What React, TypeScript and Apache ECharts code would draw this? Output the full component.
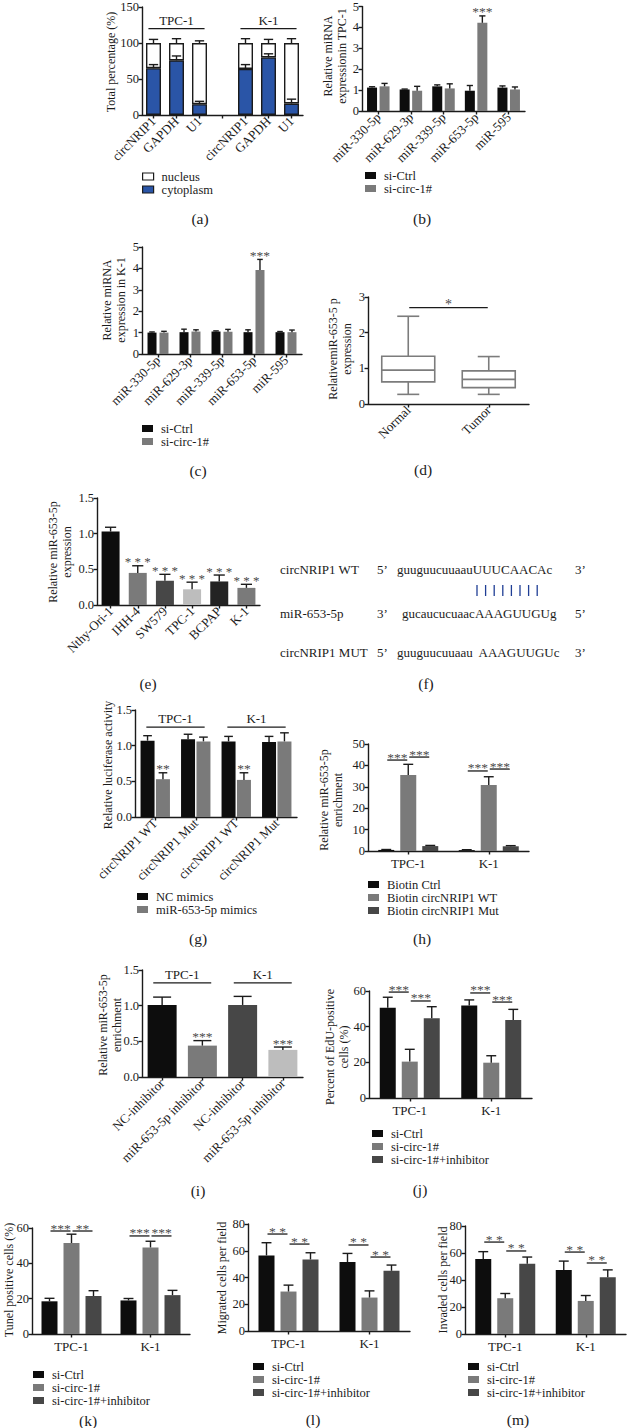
import React, { useEffect, useRef } from "react";
import * as echarts from "echarts";

const FONT = '"Liberation Serif", "Times New Roman", serif';
const INK = "#1b1b1b";
const BLACK = "#0d0d0d";
const GRAY = "#7a7a7a";
const DARK = "#474747";
const LIGHT = "#bdbdbd";
const BLUE = "#2a55a7";
const NAVY = "#1f3e95";
const BOX = "#7c7c7c";
const STAR = "#4a4a4a";

type Sig = { c1: number; b1: number; c2: number; b2: number; y: number; text: string };
const pair = (cat: number, b1: number, b2: number, y: number, text: string): Sig => ({ c1: cat, b1, c2: cat, b2, y, text });

// (a)
const A_CATEGORIES = ["circNRIP1", "GAPDH", "U1", "", "circNRIP1", "GAPDH", "U1"];
const A_CYTOPLASM = [65, 76, 15, null, 64, 80, 16];
const A_CYTOPLASM_ERR = [70, 82, 19, null, 70, 85, 22];
const A_NUCLEUS = [35, 24, 85, null, 36, 20, 84];
const A_TOTAL_ERR = [105, 106, 103, null, 106, 105, 106];
const A_GROUPS = [
  { label: "TPC-1", from: 0, to: 2, y: 120 },
  { label: "K-1", from: 4, to: 6, y: 120 },
];

// (b)
const B_CATEGORIES = ["miR-330-5p", "miR-629-3p", "miR-339-5p", "miR-653-5p", "miR-595"];
const B_CTRL = [1.12, 1.03, 1.18, 0.97, 1.12];
const B_CTRL_ERR = [1.16, 1.05, 1.25, 1.22, 1.2];
const B_CIRC = [1.18, 0.97, 1.08, 4.22, 1.03];
const B_CIRC_ERR = [1.32, 1.18, 1.3, 4.55, 1.15];
const B_STARS = ["", "", "", "***", ""];

// (c)
const C_CATEGORIES = ["miR-330-5p", "miR-629-3p", "miR-339-5p", "miR-653-5p", "miR-595"];
const C_CTRL = [1.0, 1.02, 1.05, 1.02, 1.02];
const C_CTRL_ERR = [1.03, 1.16, 1.08, 1.13, 1.05];
const C_CIRC = [1.0, 1.05, 1.04, 3.92, 1.02];
const C_CIRC_ERR = [1.06, 1.13, 1.15, 4.42, 1.12];
const C_STARS = ["", "", "", "***", ""];

// (d)
const D_CATEGORIES = ["Normal", "Tumor"];
const D_MIN = [0.27, 0.27];
const D_Q1 = [0.62, 0.46];
const D_MEDIAN = [0.95, 0.69];
const D_Q3 = [1.34, 0.93];
const D_MAX = [2.46, 1.33];
const D_SIG: Sig[] = [{ c1: 0, b1: 0, c2: 1, b2: 0, y: 2.7, text: "*" }];

// (e)
const E_CATEGORIES = ["Nthy-Ori-1", "IHH-4", "SW579", "TPC-1", "BCPAP", "K-1"];
const E_VALUES = [1.03, 0.45, 0.34, 0.22, 0.33, 0.24];
const E_ERR = [1.09, 0.55, 0.43, 0.32, 0.42, 0.29];
const E_COLORS = [BLACK, GRAY, DARK, LIGHT, "#232323", GRAY];
const E_STARS = ["", "* * *", "* * *", "* * *", "* * *", "* * *"];

// (g)
const G_CATEGORIES = ["circNRIP1 WT", "circNRIP1 Mut", "circNRIP1 WT", "circNRIP1 Mut"];
const G_NC = [1.07, 1.09, 1.06, 1.05];
const G_NC_ERR = [1.14, 1.16, 1.13, 1.13];
const G_MIMICS = [0.53, 1.06, 0.52, 1.06];
const G_MIMICS_ERR = [0.62, 1.12, 0.62, 1.18];
const G_STARS = ["**", "", "**", ""];
const G_GROUPS = [
  { label: "TPC-1", from: 0, to: 1, y: 1.26 },
  { label: "K-1", from: 2, to: 3, y: 1.26 },
];

// (h)
const H_CATEGORIES = ["TPC-1", "K-1"];
const H_CTRL = [0.5, 0.4];
const H_CTRL_ERR = [0.7, 0.6];
const H_WT = [35.5, 30.8];
const H_WT_ERR = [40.5, 34.7];
const H_MUT = [2.3, 2.2];
const H_MUT_ERR = [2.6, 2.5];
const H_SIG = [pair(0, 0, 1, 42.5, "***"), pair(0, 1, 2, 43.9, "***"), pair(1, 0, 1, 37.4, "***"), pair(1, 1, 2, 38.3, "***")];

// (i)
const I_CATEGORIES = ["NC-inhibitor", "miR-653-5p inhibitor", "NC-inhibitor", "miR-653-5p inhibitor"];
const I_VALUES = [1.01, 0.44, 1.01, 0.38];
const I_ERR = [1.12, 0.51, 1.13, 0.42];
const I_COLORS = [BLACK, GRAY, DARK, LIGHT];
const I_STARS = ["", "***", "", "***"];
const I_GROUPS = [
  { label: "TPC-1", from: 0, to: 1, y: 1.32 },
  { label: "K-1", from: 2, to: 3, y: 1.32 },
];

// (j) (k) (l) (m)
const CELL_LINES = ["TPC-1", "K-1"];
const J_CTRL = [50.6, 51.8];
const J_CTRL_ERR = [56.5, 55];
const J_CIRC = [20.4, 19.8];
const J_CIRC_ERR = [27.3, 23.7];
const J_INH = [44.7, 43.7];
const J_INH_ERR = [51.2, 49.7];
const J_SIG = [pair(0, 0, 1, 59.4, "***"), pair(0, 1, 2, 54.4, "***"), pair(1, 0, 1, 58.9, "***"), pair(1, 1, 2, 53.8, "***")];

const K_CTRL = [18.5, 19];
const K_CTRL_ERR = [20.2, 20.1];
const K_CIRC = [51.5, 49];
const K_CIRC_ERR = [56.5, 52.5];
const K_INH = [21.5, 22];
const K_INH_ERR = [24.5, 24.7];
const K_SIG = [pair(0, 0, 1, 58.3, "***"), pair(0, 1, 2, 58.3, "**"), pair(1, 0, 1, 55.5, "***"), pair(1, 1, 2, 55.5, "***")];

const L_CTRL = [56.5, 51.5];
const L_CTRL_ERR = [66, 58];
const L_CIRC = [29.5, 25];
const L_CIRC_ERR = [34.3, 30];
const L_INH = [53.5, 45];
const L_INH_ERR = [58.5, 49.3];
const L_SIG = [pair(0, 0, 1, 72.5, "* *"), pair(0, 1, 2, 65, "* *"), pair(1, 0, 1, 64.3, "* *"), pair(1, 1, 2, 55.3, "* *")];

const M_CTRL = [55.5, 47.5];
const M_CTRL_ERR = [61, 54];
const M_CIRC = [26.5, 24.5];
const M_CIRC_ERR = [30, 28.5];
const M_INH = [52, 42];
const M_INH_ERR = [57, 47.5];
const M_SIG = [pair(0, 0, 1, 68.1, "* *"), pair(0, 1, 2, 61.5, "* *"), pair(1, 0, 1, 60.7, "* *"), pair(1, 1, 2, 52.6, "* *")];

const txt = (text: string, size: number, fill: string, align: string, vAlign: string) => ({
  legacy: false,
  text,
  fontFamily: FONT,
  fontSize: size,
  fill,
  align,
  verticalAlign: vAlign,
});

const barOffset = (idx: number, n: number, bw: number, gap: number) =>
  -(n * bw + (n - 1) * gap * bw) / 2 + bw / 2 + idx * bw * (1 + gap);

function buildOption() {
  const grid: any[] = [];
  const xAxis: any[] = [];
  const yAxis: any[] = [];
  const series: any[] = [];
  const legend: any[] = [];
  const graphic: any[] = [];
  const axisLineStyle = { color: INK, width: 1.4 };

  const panel = (
    box: { left: number; top: number; width: number; height: number },
    cats: string[],
    yMax: number,
    yInterval: number,
    decimals: number,
    rotate: number
  ) => {
    const gi = grid.length;
    grid.push({ ...box });
    xAxis.push({
      gridIndex: gi,
      type: "category",
      data: cats.map((_, i) => "c" + i),
      axisLine: { show: true, lineStyle: axisLineStyle },
      axisTick: { show: true, alignWithLabel: true, length: 3.5, lineStyle: axisLineStyle },
      axisLabel: {
        interval: 0,
        rotate,
        margin: rotate ? 4 : 6,
        formatter: (_v: string, i: number) => cats[i],
        fontFamily: FONT,
        fontSize: 13,
        color: INK,
      },
      splitLine: { show: false },
    });
    yAxis.push({
      gridIndex: gi,
      type: "value",
      min: 0,
      max: yMax,
      interval: yInterval,
      axisLine: { show: true, lineStyle: axisLineStyle },
      axisTick: { show: true, length: 3.5, lineStyle: axisLineStyle },
      axisLabel: {
        margin: 3,
        formatter: (v: number) => v.toFixed(decimals),
        fontFamily: FONT,
        fontSize: 12.5,
        color: INK,
      },
      splitLine: { show: false },
    });
    return gi;
  };

  const bars = (gi: number, name: string, data: any[], color: string, bw: number, gap: number, extra: any = {}) => {
    series.push({
      type: "bar",
      name,
      xAxisIndex: gi,
      yAxisIndex: gi,
      data,
      barWidth: bw,
      barGap: gap * 100 + "%",
      itemStyle: { color },
      z: 2,
      ...extra,
    });
  };

  const errs = (
    gi: number,
    vals: (number | null)[],
    tops: (number | null)[],
    idx: number,
    n: number,
    bw: number,
    gap: number,
    stars?: string[],
    starSize = 13.5
  ) => {
    const items: number[][] = [];
    vals.forEach((v, i) => {
      if (v != null && tops[i] != null) items.push([i, v, tops[i] as number]);
    });
    series.push({
      type: "custom",
      coordinateSystem: "cartesian2d",
      xAxisIndex: gi,
      yAxisIndex: gi,
      z: 6,
      silent: true,
      data: items,
      encode: { x: 0, y: 1 },
      renderItem: (_p: any, api: any) => {
        const c = api.value(0);
        const base = api.coord([c, api.value(1)]);
        const top = api.coord([c, api.value(2)]);
        const x = base[0] + barOffset(idx, n, bw, gap);
        const cap = bw * 0.62;
        const st = { stroke: INK, lineWidth: 1.4 };
        const children: any[] = [
          { type: "line", shape: { x1: x, y1: base[1], x2: x, y2: top[1] }, style: st },
          { type: "line", shape: { x1: x - cap / 2, y1: top[1], x2: x + cap / 2, y2: top[1] }, style: st },
        ];
        const s = stars ? stars[c] : "";
        if (s) children.push({ type: "text", x, y: top[1] - 4, style: txt(s, starSize, STAR, "center", "middle") });
        return { type: "group", children };
      },
    });
  };

  const sig = (gi: number, items: Sig[], n: number, bw: number, gap: number, fontSize = 13.5) => {
    series.push({
      type: "custom",
      coordinateSystem: "cartesian2d",
      xAxisIndex: gi,
      yAxisIndex: gi,
      z: 7,
      silent: true,
      data: items.map((s, k) => [s.c1, s.y, k]),
      encode: { x: 0, y: 1 },
      renderItem: (_p: any, api: any) => {
        const s = items[api.value(2)];
        const a = api.coord([s.c1, s.y]);
        const b = api.coord([s.c2, s.y]);
        const x1 = a[0] + barOffset(s.b1, n, bw, gap) + 1;
        const x2 = b[0] + barOffset(s.b2, n, bw, gap) - 1;
        return {
          type: "group",
          children: [
            { type: "line", shape: { x1, y1: a[1], x2, y2: a[1] }, style: { stroke: INK, lineWidth: 1.3 } },
            { type: "text", x: (x1 + x2) / 2, y: a[1] - 3, style: txt(s.text, fontSize, STAR, "center", "middle") },
          ],
        };
      },
    });
  };

  const groupLabels = (gi: number, groups: { label: string; from: number; to: number; y: number }[]) => {
    series.push({
      type: "custom",
      coordinateSystem: "cartesian2d",
      xAxisIndex: gi,
      yAxisIndex: gi,
      z: 7,
      silent: true,
      data: groups.map((g, k) => [g.from, g.y, k]),
      encode: { x: 0, y: 1 },
      renderItem: (_p: any, api: any) => {
        const g = groups[api.value(2)];
        const a = api.coord([g.from, g.y]);
        const b = api.coord([g.to, g.y]);
        const w = api.size([1, 0])[0];
        const x1 = a[0] - 0.22 * w;
        const x2 = b[0] + 0.22 * w;
        return {
          type: "group",
          children: [
            { type: "line", shape: { x1, y1: a[1], x2, y2: a[1] }, style: { stroke: INK, lineWidth: 1.4 } },
            { type: "text", x: (x1 + x2) / 2, y: a[1] - 8.5, style: txt(g.label, 13, INK, "center", "middle") },
          ],
        };
      },
    });
  };

  const leg = (left: number, top: number, items: { name: string; color: string; border?: boolean }[]) => {
    legend.push({
      left,
      top,
      orient: "vertical",
      padding: 0,
      itemGap: 0,
      itemWidth: 11,
      itemHeight: 7,
      icon: "rect",
      selectedMode: false,
      textStyle: { fontFamily: FONT, fontSize: 12.5, color: INK, padding: [0, 0, 0, 3] },
      data: items.map((it) => ({
        name: it.name,
        icon: "rect",
        itemStyle: { color: it.color, borderColor: it.border ? INK : it.color, borderWidth: it.border ? 1.2 : 0 },
      })),
    });
  };

  const text = (x: number, y: number, s: string, size: number, opts: any = {}) => {
    graphic.push({
      type: "text",
      x,
      y,
      rotation: opts.rotate ? Math.PI / 2 : 0,
      z: 10,
      silent: true,
      style: { ...txt(s, size, opts.fill || INK, opts.align || "center", "middle"), lineHeight: opts.lineHeight || size * 1.2 },
    });
  };
  const yTitle = (x: number, y: number, s: string) => text(x, y, s, 12, { rotate: true, lineHeight: 14 });
  const caption = (x: number, y: number, s: string) => text(x, y, s, 15.5);

  // ---------- (a)
  const ga = panel({ left: 142, top: 7, width: 161, height: 108 }, A_CATEGORIES, 150, 50, 0, 45);
  const borderA = { borderColor: INK, borderWidth: 1.4 };
  bars(ga, "cytoplasm", A_CYTOPLASM, BLUE, 15, 0, { stack: "a", itemStyle: { color: BLUE, ...borderA } });
  bars(ga, "nucleus", A_NUCLEUS, "#ffffff", 15, 0, { stack: "a", itemStyle: { color: "#ffffff", ...borderA } });
  errs(ga, A_CYTOPLASM, A_CYTOPLASM_ERR, 0, 1, 15, 0);
  errs(
    ga,
    A_CYTOPLASM.map((v, i) => (v == null ? null : v + (A_NUCLEUS[i] as number))),
    A_TOTAL_ERR,
    0,
    1,
    15,
    0
  );
  groupLabels(ga, A_GROUPS);
  leg(142, 170, [
    { name: "nucleus", color: "#ffffff", border: true },
    { name: "cytoplasm", color: BLUE, border: true },
  ]);
  yTitle(111, 62, "Total percentage (%)");
  caption(200, 218, "(a)");

  // ---------- (b)
  const gb = panel({ left: 362, top: 4, width: 163, height: 107 }, B_CATEGORIES, 5, 1, 0, 45);
  bars(gb, "si-Ctrl", B_CTRL, BLACK, 10, 0.25);
  bars(gb, "si-circ-1#", B_CIRC, GRAY, 10, 0.25);
  errs(gb, B_CTRL, B_CTRL_ERR, 0, 2, 10, 0.25);
  errs(gb, B_CIRC, B_CIRC_ERR, 1, 2, 10, 0.25, B_STARS);
  leg(365, 169, [
    { name: "si-Ctrl", color: BLACK },
    { name: "si-circ-1#", color: GRAY },
  ]);
  yTitle(335, 56, "Relative miRNA\nexpressionin TPC-1");
  caption(422, 218, "(b)");

  // ---------- (c)
  const gc = panel({ left: 142, top: 247, width: 160, height: 107 }, C_CATEGORIES, 5, 1, 0, 45);
  bars(gc, "si-Ctrl", C_CTRL, BLACK, 9, 0.33);
  bars(gc, "si-circ-1#", C_CIRC, GRAY, 9, 0.33);
  errs(gc, C_CTRL, C_CTRL_ERR, 0, 2, 9, 0.33);
  errs(gc, C_CIRC, C_CIRC_ERR, 1, 2, 9, 0.33, C_STARS);
  leg(142, 422, [
    { name: "si-Ctrl", color: BLACK },
    { name: "si-circ-1#", color: GRAY },
  ]);
  yTitle(114, 300, "Relative miRNA\nexpression in K-1");
  caption(198, 470, "(c)");

  // ---------- (d)
  const gd = panel({ left: 368, top: 297, width: 161, height: 107 }, D_CATEGORIES, 3, 1, 0, 45);
  series.push({
    type: "custom",
    name: "boxplot",
    coordinateSystem: "cartesian2d",
    xAxisIndex: gd,
    yAxisIndex: gd,
    z: 4,
    silent: true,
    data: D_CATEGORIES.map((_, i) => [i, D_MIN[i], D_Q1[i], D_MEDIAN[i], D_Q3[i], D_MAX[i]]),
    encode: { x: 0, y: [1, 2, 3, 4, 5] },
    renderItem: (_p: any, api: any) => {
      const c = api.value(0);
      const pts = [1, 2, 3, 4, 5].map((k) => api.coord([c, api.value(k)]));
      const x = pts[0][0];
      const hw = 26.5;
      const cw = 11;
      const st = { stroke: BOX, lineWidth: 1.6, fill: "none" };
      return {
        type: "group",
        children: [
          { type: "rect", shape: { x: x - hw, y: pts[3][1], width: 2 * hw, height: pts[1][1] - pts[3][1] }, style: st },
          { type: "line", shape: { x1: x - hw, y1: pts[2][1], x2: x + hw, y2: pts[2][1] }, style: st },
          { type: "line", shape: { x1: x, y1: pts[3][1], x2: x, y2: pts[4][1] }, style: st },
          { type: "line", shape: { x1: x, y1: pts[1][1], x2: x, y2: pts[0][1] }, style: st },
          { type: "line", shape: { x1: x - cw, y1: pts[4][1], x2: x + cw, y2: pts[4][1] }, style: st },
          { type: "line", shape: { x1: x - cw, y1: pts[0][1], x2: x + cw, y2: pts[0][1] }, style: st },
        ],
      };
    },
  });
  sig(gd, D_SIG, 1, 0, 0, 14);
  yTitle(340, 349, "RelativemiR-653-5 p\nexpression");
  caption(423, 469, "(d)");

  // ---------- (e)
  const ge = panel({ left: 97, top: 498, width: 163, height: 107 }, E_CATEGORIES, 1.5, 0.5, 1, 45);
  bars(
    ge,
    "miR-653-5p expression",
    E_VALUES.map((v, i) => ({ value: v, itemStyle: { color: E_COLORS[i] } })),
    BLACK,
    18,
    0
  );
  errs(ge, E_VALUES, E_ERR, 0, 1, 18, 0, E_STARS, 13);
  yTitle(60, 552, "Relative miR-653-5p\nexpression");
  caption(148, 683, "(e)");

  // ---------- (f)
  const rows = [
    { y: 569, label: "circNRIP1 WT", p5: "5\u2019", seq: "guuguucuuaauUUUCAACAc", sx: 397, p3: "3\u2019" },
    { y: 613, label: "miR-653-5p", p5: "3\u2019", seq: "gucaucucuaacAAAGUUGUg", sx: 402, p3: "5\u2019" },
    { y: 652, label: "circNRIP1 MUT", p5: "5\u2019", seq: "guuguucuuaau  AAAGUUGUc", sx: 397, p3: "3\u2019" },
  ];
  rows.forEach((r) => {
    text(280, r.y, r.label, 13, { align: "left" });
    text(377, r.y, r.p5, 13, { align: "left" });
    text(r.sx, r.y, r.seq, 13, { align: "left" });
    text(575, r.y, r.p3, 13, { align: "left" });
  });
  for (let k = 0; k < 8; k++) {
    graphic.push({
      type: "line",
      silent: true,
      shape: { x1: 477 + k * 8.6, y1: 585, x2: 477 + k * 8.6, y2: 596 },
      style: { stroke: NAVY, lineWidth: 1.3 },
    });
  }
  caption(426, 683, "(f)");

  // ---------- (g)
  const gg = panel({ left: 135, top: 710, width: 162, height: 107 }, G_CATEGORIES, 1.5, 0.5, 1, 45);
  bars(gg, "NC mimics", G_NC, BLACK, 14, 0.1);
  bars(gg, "miR-653-5p mimics", G_MIMICS, GRAY, 14, 0.1);
  errs(gg, G_NC, G_NC_ERR, 0, 2, 14, 0.1);
  errs(gg, G_MIMICS, G_MIMICS_ERR, 1, 2, 14, 0.1, G_STARS, 13.5);
  groupLabels(gg, G_GROUPS);
  leg(137, 890, [
    { name: "NC mimics", color: BLACK },
    { name: "miR-653-5p mimics", color: GRAY },
  ]);
  yTitle(108, 765, "Relative luciferase activity");
  caption(198, 938, "(g)");

  // ---------- (h)
  const gh = panel({ left: 368, top: 744, width: 161, height: 107 }, H_CATEGORIES, 50, 10, 0, 0);
  const bw3 = 16;
  const gap3 = 0.375;
  bars(gh, "Biotin Ctrl", H_CTRL, BLACK, bw3, gap3);
  bars(gh, "Biotin circNRIP1 WT", H_WT, GRAY, bw3, gap3);
  bars(gh, "Biotin circNRIP1 Mut", H_MUT, DARK, bw3, gap3);
  errs(gh, H_CTRL, H_CTRL_ERR, 0, 3, bw3, gap3);
  errs(gh, H_WT, H_WT_ERR, 1, 3, bw3, gap3);
  errs(gh, H_MUT, H_MUT_ERR, 2, 3, bw3, gap3);
  sig(gh, H_SIG, 3, bw3, gap3);
  leg(368, 878, [
    { name: "Biotin Ctrl", color: BLACK },
    { name: "Biotin circNRIP1 WT", color: GRAY },
    { name: "Biotin circNRIP1 Mut", color: DARK },
  ]);
  yTitle(331, 800, "Relative miR-653-5p\nenrichment");
  caption(422, 938, "(h)");

  // ---------- (i)
  const gI = panel({ left: 142, top: 970, width: 161, height: 107 }, I_CATEGORIES, 1.5, 0.5, 1, 45);
  bars(
    gI,
    "miR-653-5p enrichment",
    I_VALUES.map((v, i) => ({ value: v, itemStyle: { color: I_COLORS[i] } })),
    BLACK,
    29,
    0
  );
  errs(gI, I_VALUES, I_ERR, 0, 1, 29, 0, I_STARS, 13.5);
  groupLabels(gI, I_GROUPS);
  yTitle(110, 1025, "Relative miR-653-5p\nenrichment");
  caption(198, 1190, "(i)");

  // ---------- (j) (k) (l) (m)
  const triple = (
    box: { left: number; top: number; width: number; height: number },
    yMax: number,
    ctrl: number[],
    ctrlE: number[],
    circ: number[],
    circE: number[],
    inh: number[],
    inhE: number[],
    sigs: Sig[],
    legLeft: number,
    legTop: number
  ) => {
    const g = panel(box, CELL_LINES, yMax, 20, 0, 0);
    bars(g, "si-Ctrl", ctrl, BLACK, bw3, gap3);
    bars(g, "si-circ-1#", circ, GRAY, bw3, gap3);
    bars(g, "si-circ-1#+inhibitor", inh, DARK, bw3, gap3);
    errs(g, ctrl, ctrlE, 0, 3, bw3, gap3);
    errs(g, circ, circE, 1, 3, bw3, gap3);
    errs(g, inh, inhE, 2, 3, bw3, gap3);
    sig(g, sigs, 3, bw3, gap3);
    leg(legLeft, legTop, [
      { name: "si-Ctrl", color: BLACK },
      { name: "si-circ-1#", color: GRAY },
      { name: "si-circ-1#+inhibitor", color: DARK },
    ]);
  };

  triple({ left: 369, top: 991, width: 163, height: 107 }, 60, J_CTRL, J_CTRL_ERR, J_CIRC, J_CIRC_ERR, J_INH, J_INH_ERR, J_SIG, 372, 1127);
  yTitle(337, 1047, "Percent of EdU-positive\ncells (%)");
  caption(420, 1189, "(j)");

  triple({ left: 32, top: 1228, width: 158, height: 106 }, 60, K_CTRL, K_CTRL_ERR, K_CIRC, K_CIRC_ERR, K_INH, K_INH_ERR, K_SIG, 33, 1368);
  yTitle(9, 1280, "Tunel positive cells (%)");
  caption(88, 1420, "(k)");

  triple({ left: 248, top: 1224, width: 162, height: 107 }, 80, L_CTRL, L_CTRL_ERR, L_CIRC, L_CIRC_ERR, L_INH, L_INH_ERR, L_SIG, 253, 1360);
  yTitle(222, 1278, "Migrated cells per field");
  caption(313, 1419, "(l)");

  triple({ left: 465, top: 1226, width: 161, height: 108 }, 80, M_CTRL, M_CTRL_ERR, M_CIRC, M_CIRC_ERR, M_INH, M_INH_ERR, M_SIG, 468, 1360);
  yTitle(443, 1280, "Invaded cells per field");
  caption(518, 1419, "(m)");

  return {
    animation: false,
    backgroundColor: "#ffffff",
    textStyle: { fontFamily: FONT },
    grid,
    xAxis,
    yAxis,
    series,
    legend,
    graphic,
  };
}

export default function App() {
  const ref = useRef<HTMLDivElement>(null);
  useEffect(() => {
    if (!ref.current) return;
    const chart = echarts.init(ref.current, undefined, { renderer: "svg" });
    chart.setOption(buildOption() as any);
    return () => chart.dispose();
  }, []);
  return (
    <div
      ref={ref}
      style={{ position: "absolute", left: 0, top: 0, width: 628, height: 1428, background: "#ffffff" }}
    />
  );
}
